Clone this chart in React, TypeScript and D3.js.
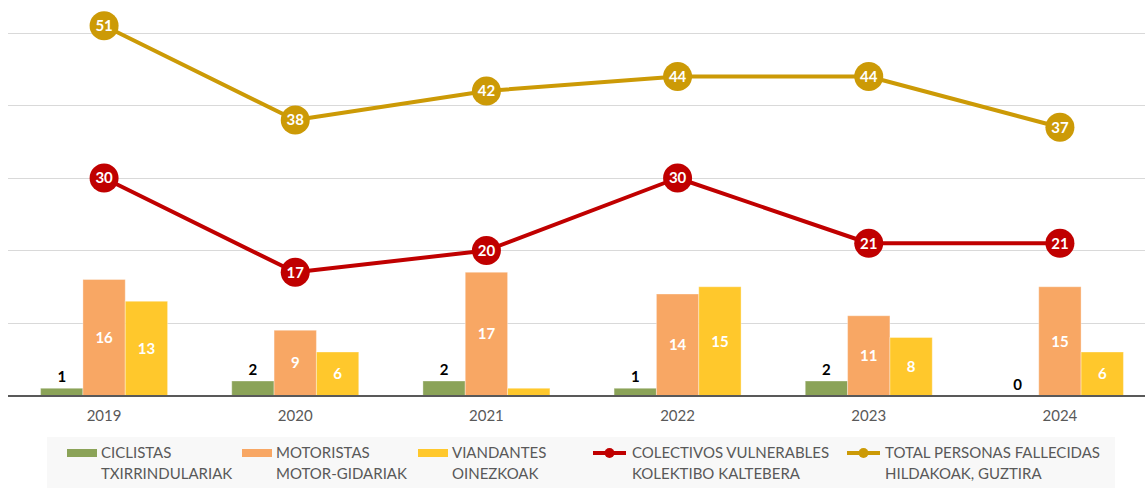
import React from 'react';
import * as d3 from 'd3';

const years = ['2019', '2020', '2021', '2022', '2023', '2024'];
const ciclistas = [1, 2, 2, 1, 2, 0];
const motoristas = [16, 9, 17, 14, 11, 15];
const viandantes = [13, 6, 1, 15, 8, 6];
const vulnerables = [30, 17, 20, 30, 21, 21];
const totalFallecidos = [51, 38, 42, 44, 44, 37];
const gridTicks = [0, 10, 20, 30, 40, 50];

const barSeries = [
  { key: 'cic', values: ciclistas, color: '#8ba358', label: ['CICLISTAS', 'TXIRRINDULARIAK'], inside: false },
  { key: 'mot', values: motoristas, color: '#f8a764', label: ['MOTORISTAS', 'MOTOR-GIDARIAK'], inside: true },
  { key: 'via', values: viandantes, color: '#ffc82c', label: ['VIANDANTES', 'OINEZKOAK'], inside: true },
];

const lineSeries = [
  { key: 'vul', values: vulnerables, color: '#c00000', label: ['COLECTIVOS VULNERABLES', 'KOLEKTIBO KALTEBERA'] },
  { key: 'tot', values: totalFallecidos, color: '#cc9a06', label: ['TOTAL PERSONAS FALLECIDAS', 'HILDAKOAK, GUZTIRA'] },
];

const W = 1145;
const H = 488;
const font = 'Lato, "Open Sans", sans-serif';

export default function App() {
  const x = d3.scaleBand<string>().domain(years).range([8.5, 1155.5]).padding(0);
  const y = d3.scaleLinear().domain([0, 50]).range([395.5, 33]);
  const groupW = 127;
  const inner = d3.scaleBand<string>().domain(barSeries.map(s => s.key)).range([0, groupW]);
  const cx = (yr: string) => (x(yr) as number) + x.bandwidth() / 2;

  // legend positions (swatch x, text x)
  const legendSwatch = [67, 242, 418, 593, 847];
  const legendText = [101, 276, 452, 632, 885];

  return (
    <svg width={W} height={H} style={{ position: 'absolute', left: 0, top: 0, fontFamily: font }}>
      <rect x={0} y={0} width={W} height={H} fill="#ffffff" />

      {/* gridlines */}
      {gridTicks.slice(1).map(t => (
        <line key={t} x1={8} x2={W} y1={Math.round(y(t)) + 0.5} y2={Math.round(y(t)) + 0.5} stroke="#d9d9d9" strokeWidth={1} />
      ))}

      {/* bars */}
      {barSeries.map(s => (
        <g key={s.key}>
          {years.map((yr, i) => {
            const bx = cx(yr) - groupW / 2 + (inner(s.key) as number);
            const top = y(s.values[i]);
            return (
              <rect key={yr} x={bx} y={top} width={inner.bandwidth()} height={y(0) - top}
                fill={s.color} stroke="rgba(255,255,255,0.35)" strokeWidth={1} />
            );
          })}
        </g>
      ))}

      {/* baseline */}
      <line x1={8} x2={W} y1={396} y2={396} stroke="#595959" strokeWidth={2} />

      {/* bar labels */}
      {barSeries.map(s => (
        <g key={s.key + '-lbl'}>
          {years.map((yr, i) => {
            const v = s.values[i];
            const lx = cx(yr) - groupW / 2 + (inner(s.key) as number) + inner.bandwidth() / 2;
            if (s.inside) {
              if (v < 2) return null;
              const my = (y(v) + y(0)) / 2;
              return (
                <text key={yr} x={lx} y={my} dy="0.36em" textAnchor="middle" fill="#ffffff"
                  fontSize={15} fontWeight={700}>{v}</text>
              );
            }
            return (
              <text key={yr} x={lx} y={y(v) - 6} textAnchor="middle" fill="#000000"
                fontSize={15} fontWeight={700}>{v}</text>
            );
          })}
        </g>
      ))}

      {/* lines */}
      {lineSeries.map(s => {
        const path = d3.line<number>()
          .x((_, i) => cx(years[i]))
          .y(d => y(d))(s.values) as string;
        return (
          <g key={s.key}>
            <path d={path} fill="none" stroke={s.color} strokeWidth={4} strokeLinejoin="round" />
            {s.values.map((v, i) => (
              <g key={i}>
                <circle cx={cx(years[i])} cy={y(v)} r={14.5} fill={s.color} />
                <text x={cx(years[i])} y={y(v)} dy="0.36em" textAnchor="middle" fill="#ffffff"
                  fontSize={15} fontWeight={700}>{v}</text>
              </g>
            ))}
          </g>
        );
      })}

      {/* x axis labels */}
      {years.map(yr => (
        <text key={yr} x={cx(yr)} y={416} dy="0.36em" textAnchor="middle" fill="#595959" fontSize={15}>{yr}</text>
      ))}

      {/* legend */}
      <rect x={47} y={437} width={1068} height={H - 437} fill="#f8f8f8" />
      {barSeries.map((s, i) => (
        <g key={s.key + '-leg'}>
          <rect x={legendSwatch[i]} y={449} width={30} height={8} fill={s.color} />
          <text x={legendText[i]} y={453} dy="0.36em" fill="#595959" fontSize={15}>{s.label[0]}</text>
          <text x={legendText[i]} y={474} dy="0.36em" fill="#595959" fontSize={15}>{s.label[1]}</text>
        </g>
      ))}
      {lineSeries.map((s, j) => {
        const i = j + 3;
        return (
          <g key={s.key + '-leg'}>
            <line x1={legendSwatch[i]} x2={legendSwatch[i] + 33} y1={453} y2={453} stroke={s.color} strokeWidth={4} />
            <circle cx={legendSwatch[i] + 16.5} cy={453} r={5} fill={s.color} />
            <text x={legendText[i]} y={453} dy="0.36em" fill="#595959" fontSize={15}>{s.label[0]}</text>
            <text x={legendText[i]} y={474} dy="0.36em" fill="#595959" fontSize={15}>{s.label[1]}</text>
          </g>
        );
      })}
    </svg>
  );
}
